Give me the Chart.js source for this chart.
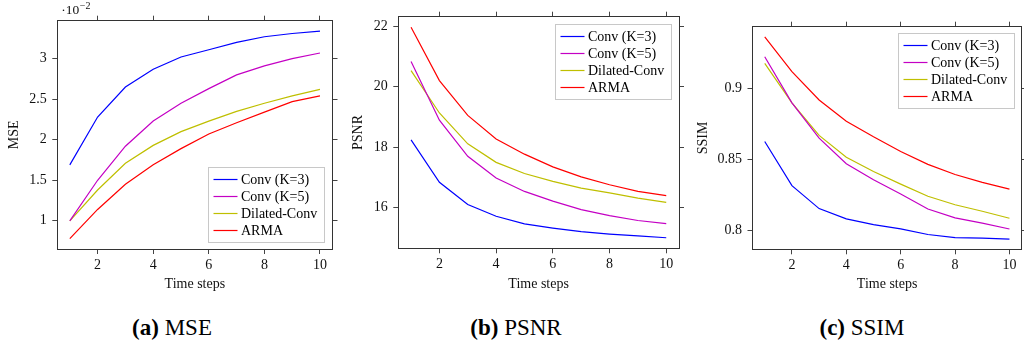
<!DOCTYPE html>
<html>
<head>
<meta charset="utf-8">
<script src="https://cdn.jsdelivr.net/npm/chart.js@4.4.1/dist/chart.umd.min.js"></script>
<style>
  html, body { margin: 0; padding: 0; background: #fff; }
  #page { position: relative; width: 1024px; height: 343px; overflow: hidden; }
  .panel { position: absolute; top: 0; height: 300px; }
  .caption {
    position: absolute; top: 316px; width: 200px; text-align: center;
    font-family: "Liberation Serif", serif; font-size: 23px; line-height: 23px; color: #000;
  }
  .caption b { font-weight: bold; }
</style>
</head>
<body>
<div id="page">
  <div class="panel" style="left:0px;width:340px"><canvas id="chart_mse"></canvas></div>
  <div class="panel" style="left:340px;width:350px"><canvas id="chart_psnr"></canvas></div>
  <div class="panel" style="left:690px;width:334px"><canvas id="chart_ssim"></canvas></div>
  <div class="caption" style="left:72px"><b>(a)</b> MSE</div>
  <div class="caption" style="left:416px"><b>(b)</b> PSNR</div>
  <div class="caption" style="left:762px"><b>(c)</b> SSIM</div>
</div>
<script>
// values
const time_steps = [1, 2, 3, 4, 5, 6, 7, 8, 9, 10];
const series_names = ['Conv (K=3)', 'Conv (K=5)', 'Dilated-Conv', 'ARMA'];
const series_colors = ['#0000ff', '#c400c4', '#bfbf00', '#ff0000'];

// MSE, in units of 10^-2
const mse_conv_k3 = [1.69, 2.28, 2.65, 2.87, 3.02, 3.11, 3.20, 3.27, 3.31, 3.34];
const mse_conv_k5 = [1.00, 1.50, 1.92, 2.23, 2.45, 2.63, 2.80, 2.91, 3.00, 3.07];
const mse_dilated = [1.00, 1.38, 1.71, 1.93, 2.10, 2.23, 2.35, 2.45, 2.54, 2.62];
const mse_arma = [0.78, 1.14, 1.45, 1.69, 1.89, 2.07, 2.21, 2.34, 2.47, 2.54];

const psnr_conv_k3 = [18.24, 16.84, 16.11, 15.72, 15.47, 15.33, 15.21, 15.13, 15.07, 15.01];
const psnr_conv_k5 = [20.83, 18.89, 17.70, 16.98, 16.54, 16.22, 15.94, 15.74, 15.58, 15.48];
const psnr_dilated = [20.53, 19.13, 18.11, 17.50, 17.13, 16.87, 16.65, 16.49, 16.32, 16.18];
const psnr_arma = [21.96, 20.20, 19.05, 18.27, 17.77, 17.35, 17.02, 16.76, 16.54, 16.40];

const ssim_conv_k3 = [0.8627, 0.8315, 0.8153, 0.8080, 0.8040, 0.8010, 0.7970, 0.7948, 0.7944, 0.7937];
const ssim_conv_k5 = [0.9225, 0.8900, 0.8650, 0.8470, 0.8357, 0.8256, 0.8150, 0.8087, 0.8050, 0.8009];
const ssim_dilated = [0.9178, 0.8900, 0.8670, 0.8516, 0.8415, 0.8326, 0.8240, 0.8180, 0.8134, 0.8085];
const ssim_arma = [0.9366, 0.9120, 0.8920, 0.8770, 0.8660, 0.8556, 0.8465, 0.8394, 0.8338, 0.8290];

const x_ticks = [2, 4, 6, 8, 10];
const mse_ticks = [1, 1.5, 2, 2.5, 3];
const psnr_ticks = [16, 18, 20, 22];
const ssim_ticks = [0.8, 0.85, 0.9];

const font_family = '"Liberation Serif", "Times New Roman", serif';
const axis_color = '#333';

// legend drawn inside the plot area, like pgfplots does
const box_legend_plugin = {
    id: 'box_legend',
    afterDatasetsDraw(chart, args, opts) {
        let ctx = chart.ctx;
        let area = chart.chartArea;
        let datasets = chart.data.datasets;
        ctx.save();
        ctx.font = '14px ' + font_family;
        let text_w = 0;
        datasets.forEach(ds => { text_w = Math.max(text_w, ctx.measureText(ds.label).width); });
        let box_w = Math.round(32.5 + text_w + 7);
        let row_h = 17;
        let box_h = Math.round(11 + row_h * (datasets.length - 1) + 12.5);
        let margin_x = 0.03 * (area.right - area.left);
        let margin_y = 0.03 * (area.bottom - area.top);
        let bx = Math.round(area.right - margin_x - box_w) + 0.5;
        let by = opts.corner == 'se'
            ? Math.round(area.bottom - margin_y - box_h) + 0.5
            : Math.round(area.top + margin_y) + 0.5;
        ctx.fillStyle = '#fff';
        ctx.fillRect(bx, by, box_w, box_h);
        ctx.strokeStyle = '#c8c8c8';
        ctx.lineWidth = 1;
        ctx.strokeRect(bx, by, box_w, box_h);
        datasets.forEach((ds, i) => {
            let ly = Math.round(by + 11 + i * row_h) + 0.5;
            ctx.strokeStyle = ds.borderColor;
            ctx.lineWidth = 1.2;
            ctx.beginPath();
            ctx.moveTo(bx + 5, ly);
            ctx.lineTo(bx + 29, ly);
            ctx.stroke();
            ctx.fillStyle = '#000';
            ctx.textBaseline = 'middle';
            ctx.textAlign = 'left';
            ctx.fillText(ds.label, bx + 32.5, ly + 0.5);
        });
        ctx.restore();
    }
};

// the "·10^-2" multiplier above the y axis
const scale_note_plugin = {
    id: 'scale_note',
    afterDraw(chart, args, opts) {
        if (!opts.text) return;
        let ctx = chart.ctx;
        let x = chart.chartArea.left + 4;
        ctx.save();
        ctx.fillStyle = '#111';
        ctx.textBaseline = 'alphabetic';
        ctx.font = '13.5px ' + font_family;
        ctx.fillText('\u00b7' + opts.text, x, 13.5);
        let w = ctx.measureText('\u00b7' + opts.text).width;
        ctx.font = '10px ' + font_family;
        ctx.fillText(opts.exponent, x + w + 0.5, 8.5);
        ctx.restore();
    }
};

function enlarged_limits(values_list) {
    let all = [].concat(...values_list);
    let lo = Math.min(...all);
    let hi = Math.max(...all);
    let pad = (hi - lo) * 0.05;
    return [lo - pad, hi + pad];
}

function make_scale(position, min, max, tick_values, size, show_labels, title, title_pad) {
    let scale = {
        type: 'linear',
        position: position,
        min: min,
        max: max,
        afterBuildTicks: (s) => { s.ticks = tick_values.map(v => ({ value: v })); },
        afterFit: (s) => {
            if (position == 'left' || position == 'right') s.width = size;
            else s.height = size;
        },
        grid: {
            display: true,
            drawOnChartArea: false,
            drawTicks: true,
            tickLength: 5,
            tickColor: '#444',
            tickWidth: 1,
        },
        border: { display: true, color: axis_color, width: 1 },
        ticks: {
            display: show_labels,
            color: '#111',
            font: { family: font_family, size: 14 },
            padding: (position == 'left') ? 5.5 : 3,
            maxRotation: 0,
            callback: (v) => String(v),
        },
        title: { display: false },
    };
    if (title) {
        scale.title = {
            display: true,
            text: title,
            color: '#111',
            font: { family: font_family, size: 14 },
            padding: title_pad,
        };
    }
    return scale;
}

function make_chart(canvas_id, cfg) {
    let y_limits = enlarged_limits(cfg.series);
    let x_limits = enlarged_limits([time_steps]);
    let datasets = cfg.series.map((values, i) => ({
        label: series_names[i],
        data: time_steps.map((t, j) => ({ x: t, y: values[j] })),
        borderColor: series_colors[i],
        backgroundColor: series_colors[i],
        borderWidth: 1.2,
        pointRadius: 0,
        tension: 0,
        fill: false,
    }));
    return new Chart(document.getElementById(canvas_id), {
        type: 'line',
        data: { datasets: datasets },
        options: {
            responsive: true,
            maintainAspectRatio: false,
            animation: false,
            layout: { padding: 0 },
            scales: {
                x: make_scale('bottom', x_limits[0], x_limits[1], x_ticks, cfg.bottom, true,
                    'Time steps', { top: 0, bottom: 7 }),
                x_top: make_scale('top', x_limits[0], x_limits[1], x_ticks, cfg.top, false),
                y: make_scale('left', y_limits[0], y_limits[1], cfg.ticks, cfg.left, true,
                    cfg.y_title, { top: cfg.y_title_pad, bottom: 0 }),
                y_right: make_scale('right', y_limits[0], y_limits[1], cfg.ticks, cfg.right, false),
            },
            plugins: {
                legend: { display: false },
                tooltip: { enabled: false },
                box_legend: { corner: cfg.legend_corner },
                scale_note: { text: cfg.note || '', exponent: cfg.note_exp || '' },
            },
        },
        plugins: [box_legend_plugin, scale_note_plugin],
    });
}

make_chart('chart_mse', {
    series: [mse_conv_k3, mse_conv_k5, mse_dilated, mse_arma],
    ticks: mse_ticks,
    y_title: 'MSE', y_title_pad: 6,
    left: 57.3, right: 7.5, top: 20.7, bottom: 51,
    legend_corner: 'se',
    note: '10', note_exp: '\u22122',
});

make_chart('chart_psnr', {
    series: [psnr_conv_k3, psnr_conv_k5, psnr_dilated, psnr_arma],
    ticks: psnr_ticks,
    y_title: 'PSNR', y_title_pad: 9.5,
    left: 58.3, right: 11, top: 16.7, bottom: 51.7,
    legend_corner: 'ne',
});

make_chart('chart_ssim', {
    series: [ssim_conv_k3, ssim_conv_k5, ssim_dilated, ssim_arma],
    ticks: ssim_ticks,
    y_title: 'SSIM', y_title_pad: 5,
    left: 62.5, right: 2.3, top: 26.7, bottom: 50.7,
    legend_corner: 'ne',
});
</script>
</body>
</html>
